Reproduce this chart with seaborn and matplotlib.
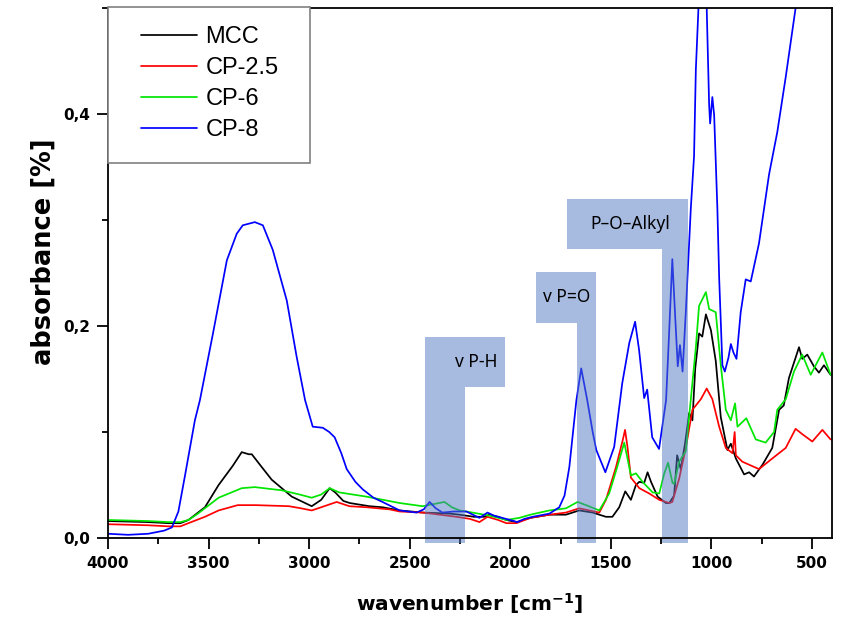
import numpy as np
import pandas as pd
import matplotlib
matplotlib.use("Agg")
import matplotlib.pyplot as plt
from matplotlib.patches import Polygon, Rectangle
from matplotlib.ticker import MultipleLocator, FuncFormatter
import seaborn as sns

# ==========================================
# DATA
# ==========================================
mcc_wn = [4000, 3800, 3700, 3640, 3600, 3518, 3450, 3380, 3335, 3300, 3285, 3240, 3186,
          3086, 2987, 2940, 2898, 2870, 2830, 2798, 2700, 2635, 2550, 2436, 2300, 2252,
          2180, 2130, 2103, 2060, 2019, 1969, 1900, 1805, 1723, 1657, 1590, 1524, 1492,
          1458, 1428, 1400, 1375, 1358, 1334, 1317, 1300, 1267, 1226, 1209, 1185, 1170,
          1152, 1130, 1110, 1094, 1080, 1061, 1045, 1027, 1002, 978, 953, 920, 903, 878,
          837, 812, 788, 746, 697, 663, 640, 614, 564, 548, 523, 490, 465, 440, 407]
mcc_abs = [0.016, 0.015, 0.014, 0.014, 0.017, 0.029, 0.050, 0.068, 0.081, 0.079, 0.079,
           0.068, 0.055, 0.039, 0.030, 0.036, 0.047, 0.043, 0.035, 0.033, 0.030, 0.029,
           0.026, 0.024, 0.023, 0.022, 0.020, 0.020, 0.022, 0.020, 0.017, 0.015, 0.019,
           0.022, 0.022, 0.026, 0.024, 0.020, 0.020, 0.029, 0.044, 0.036, 0.050, 0.053,
           0.052, 0.062, 0.053, 0.039, 0.033, 0.033, 0.040, 0.078, 0.065, 0.090, 0.118,
           0.111, 0.160, 0.193, 0.190, 0.211, 0.196, 0.167, 0.114, 0.083, 0.089, 0.075,
           0.060, 0.062, 0.058, 0.069, 0.085, 0.121, 0.125, 0.151, 0.180, 0.169, 0.173,
           0.162, 0.156, 0.163, 0.154]

cp25_wn = [4000, 3800, 3700, 3640, 3600, 3518, 3450, 3355, 3265, 3100, 3040, 2987, 2940,
           2863, 2800, 2714, 2600, 2550, 2433, 2267, 2200, 2153, 2113, 2060, 2019, 1969,
           1900, 1805, 1723, 1657, 1557, 1524, 1474, 1441, 1429, 1417, 1400, 1358, 1309,
           1259, 1209, 1194, 1160, 1127, 1094, 1052, 1023, 995, 961, 928, 895, 884, 878,
           846, 763, 697, 630, 581, 548, 498, 448, 407]
cp25_abs = [0.013, 0.012, 0.011, 0.011, 0.014, 0.020, 0.026, 0.031, 0.031, 0.030, 0.028,
            0.026, 0.029, 0.034, 0.030, 0.029, 0.027, 0.025, 0.024, 0.020, 0.018, 0.015,
            0.020, 0.017, 0.014, 0.014, 0.019, 0.022, 0.024, 0.028, 0.024, 0.036, 0.067,
            0.092, 0.102, 0.086, 0.057, 0.047, 0.042, 0.036, 0.033, 0.034, 0.056, 0.085,
            0.121, 0.131, 0.141, 0.131, 0.105, 0.085, 0.080, 0.100, 0.078, 0.072, 0.065,
            0.075, 0.085, 0.103, 0.098, 0.091, 0.102, 0.093]

cp6_wn = [4000, 3800, 3700, 3640, 3600, 3553, 3450, 3335, 3270, 3136, 3047, 2987, 2940,
          2898, 2850, 2714, 2550, 2436, 2380, 2327, 2290, 2252, 2188, 2100, 2019, 1955,
          1900, 1805, 1723, 1665, 1623, 1557, 1508, 1468, 1433, 1418, 1400, 1375, 1342,
          1292, 1259, 1234, 1215, 1193, 1185, 1160, 1127, 1102, 1077, 1061, 1027, 1011,
          978, 953, 928, 903, 882, 870, 826, 779, 730, 688, 672, 630, 589, 548, 506, 448,
          407]
cp6_abs = [0.017, 0.016, 0.015, 0.015, 0.017, 0.023, 0.038, 0.047, 0.048, 0.045, 0.041,
           0.038, 0.041, 0.047, 0.043, 0.039, 0.033, 0.030, 0.032, 0.034, 0.029, 0.026,
           0.024, 0.021, 0.017, 0.019, 0.022, 0.026, 0.028, 0.034, 0.031, 0.026, 0.042,
           0.067, 0.090, 0.076, 0.059, 0.061, 0.053, 0.043, 0.042, 0.061, 0.071, 0.052,
           0.051, 0.072, 0.082, 0.131, 0.180, 0.219, 0.232, 0.216, 0.213, 0.163, 0.121,
           0.111, 0.127, 0.105, 0.113, 0.093, 0.090, 0.100, 0.121, 0.131, 0.157, 0.173,
           0.154, 0.175, 0.154]

cp8_wn = [4000, 3900, 3800, 3720, 3682, 3650, 3618, 3568, 3543, 3478, 3409, 3360, 3330,
          3270, 3230, 3181, 3111, 3062, 3020, 2982, 2932, 2900, 2873, 2840, 2813, 2770,
          2734, 2680, 2635, 2550, 2466, 2430, 2401, 2370, 2337, 2280, 2218, 2153, 2113,
          2080, 2040, 2000, 1964, 1930, 1888, 1805, 1756, 1730, 1706, 1671, 1647, 1617,
          1590, 1572, 1527, 1483, 1443, 1408, 1379, 1359, 1334, 1319, 1294, 1260, 1225,
          1210, 1194, 1180, 1167, 1156, 1143, 1127, 1102, 1086, 1077, 1064, 1040, 1023,
          1011, 1006, 995, 986, 970, 961, 945, 933, 915, 903, 890, 875, 854, 829, 804,
          763, 713, 672, 630, 581, 500, 400]
cp8_abs = [0.004, 0.003, 0.004, 0.007, 0.010, 0.025, 0.058, 0.111, 0.130, 0.193, 0.262,
           0.287, 0.295, 0.298, 0.295, 0.272, 0.224, 0.171, 0.130, 0.105, 0.104, 0.100,
           0.095, 0.080, 0.065, 0.053, 0.046, 0.038, 0.034, 0.026, 0.024, 0.027, 0.034,
           0.028, 0.024, 0.025, 0.025, 0.019, 0.024, 0.021, 0.019, 0.017, 0.015, 0.018,
           0.020, 0.023, 0.029, 0.040, 0.067, 0.130, 0.160, 0.130, 0.100, 0.083, 0.062,
           0.086, 0.146, 0.184, 0.204, 0.177, 0.132, 0.140, 0.095, 0.084, 0.130, 0.193,
           0.263, 0.210, 0.162, 0.182, 0.157, 0.213, 0.311, 0.360, 0.442, 0.500, 0.560,
           0.500, 0.409, 0.391, 0.416, 0.399, 0.311, 0.245, 0.163, 0.157, 0.170, 0.183,
           0.175, 0.169, 0.213, 0.244, 0.242, 0.278, 0.343, 0.383, 0.435, 0.500, 0.580,
           0.660]

series_names = ["MCC", "CP-2.5", "CP-6", "CP-8"]
series_colors = ["black", "#ff0000", "#00e600", "#0000ff"]

# annotated bands: label box (hi, lo) in cm-1, vertical bar (hi, lo), label box y-range
band_labels = ["v P-H", "v P=O", "P\u2013O\u2013Alkyl"]
box_hi = [2423, 1870, 1716]
box_lo = [2024, 1572, 1115]
bar_hi = [2423, 1666, 1244]
bar_lo = [2224, 1572, 1115]
box_ybot = [0.142, 0.203, 0.2725]
box_ytop = [0.190, 0.251, 0.320]
label_x = [2064, 1719, 1403]
label_ha = ["right", "center", "center"]

df = pd.concat([
    pd.DataFrame({"wn": mcc_wn, "absorbance": mcc_abs, "sample": "MCC"}),
    pd.DataFrame({"wn": cp25_wn, "absorbance": cp25_abs, "sample": "CP-2.5"}),
    pd.DataFrame({"wn": cp6_wn, "absorbance": cp6_abs, "sample": "CP-6"}),
    pd.DataFrame({"wn": cp8_wn, "absorbance": cp8_abs, "sample": "CP-8"}),
], ignore_index=True)

# ==========================================
# PLOT
# ==========================================
sns.set_style("ticks")
plt.rcParams["font.family"] = ["DejaVu Sans"]
plt.rcParams["text.color"] = "black"
plt.rcParams["axes.labelcolor"] = "black"
plt.rcParams["xtick.color"] = "black"
plt.rcParams["ytick.color"] = "black"

fig = plt.figure(figsize=(8.45, 6.2), dpi=100)
ax = fig.add_axes([108 / 845, 82 / 620, 724 / 845, 530 / 620])

for name, col in zip(series_names, series_colors):
    sub = df[df["sample"] == name]
    sns.lineplot(data=sub, x="wn", y="absorbance", color=col, lw=1.25,
                 estimator=None, sort=False, label=name, ax=ax, zorder=2)

# band overlays (L-shaped, semi-transparent over the spectra)
ybot = -0.005
for i in range(len(band_labels)):
    verts = [(bar_hi[i], ybot), (bar_hi[i], box_ybot[i]), (box_hi[i], box_ybot[i]),
             (box_hi[i], box_ytop[i]), (box_lo[i], box_ytop[i]), (box_lo[i], box_ybot[i]),
             (bar_lo[i], box_ybot[i]), (bar_lo[i], ybot)]
    ax.add_patch(Polygon(verts, closed=True, facecolor="#5078c3", alpha=0.5,
                         edgecolor="none", zorder=3, clip_on=False))
    ax.text(label_x[i], (box_ybot[i] + box_ytop[i]) / 2, band_labels[i],
            ha=label_ha[i], va="center", fontsize=12.5, family="Noto Sans",
            color="black", zorder=4)

ax.set_xlim(4000, 400)
ax.set_ylim(0, 0.5)
ax.xaxis.set_major_locator(MultipleLocator(500))
ax.xaxis.set_minor_locator(MultipleLocator(250))
ax.yaxis.set_major_locator(MultipleLocator(0.2))
ax.yaxis.set_minor_locator(MultipleLocator(0.1))
ax.yaxis.set_major_formatter(FuncFormatter(lambda v, p: f"{v:.1f}".replace(".", ",")))
ax.tick_params(which="major", length=8, width=1.3, labelsize=11, pad=5,
               color="black", labelcolor="black")
ax.tick_params(which="minor", length=4, width=1.3, color="black")
for lab in ax.get_xticklabels() + ax.get_yticklabels():
    lab.set_fontweight("bold")
for sp in ax.spines.values():
    sp.set_linewidth(1.3)
    sp.set_color("black")
    sp.set_zorder(5)

ax.set_xlabel(r"wavenumber [cm$^{\mathbf{-1}}$]", fontsize=14.5, fontweight="bold",
              color="black")
ax.set_ylabel("absorbance [%]", fontsize=18.5, fontweight="bold", color="black")
ax.xaxis.set_label_coords(0.5, -0.100)
ax.yaxis.set_label_coords(-0.071, 0.54)

# legend: framed box drawn separately, entries without frame
ax.add_patch(Rectangle((0, 375 / 530), 202 / 724, 156 / 530, transform=ax.transAxes,
                       facecolor="white", edgecolor="#808080", lw=1.2, zorder=6,
                       clip_on=False))
leg = ax.legend(loc="upper left", bbox_to_anchor=(0.045, 0.966), frameon=False,
                handlelength=2.4, handletextpad=0.35, labelspacing=0.38,
                borderpad=0, borderaxespad=0,
                prop={"family": "Liberation Sans", "size": 17})
for t in leg.get_texts():
    t.set_color("black")
leg.set_zorder(7)

fig.savefig("out.png", dpi=100)
